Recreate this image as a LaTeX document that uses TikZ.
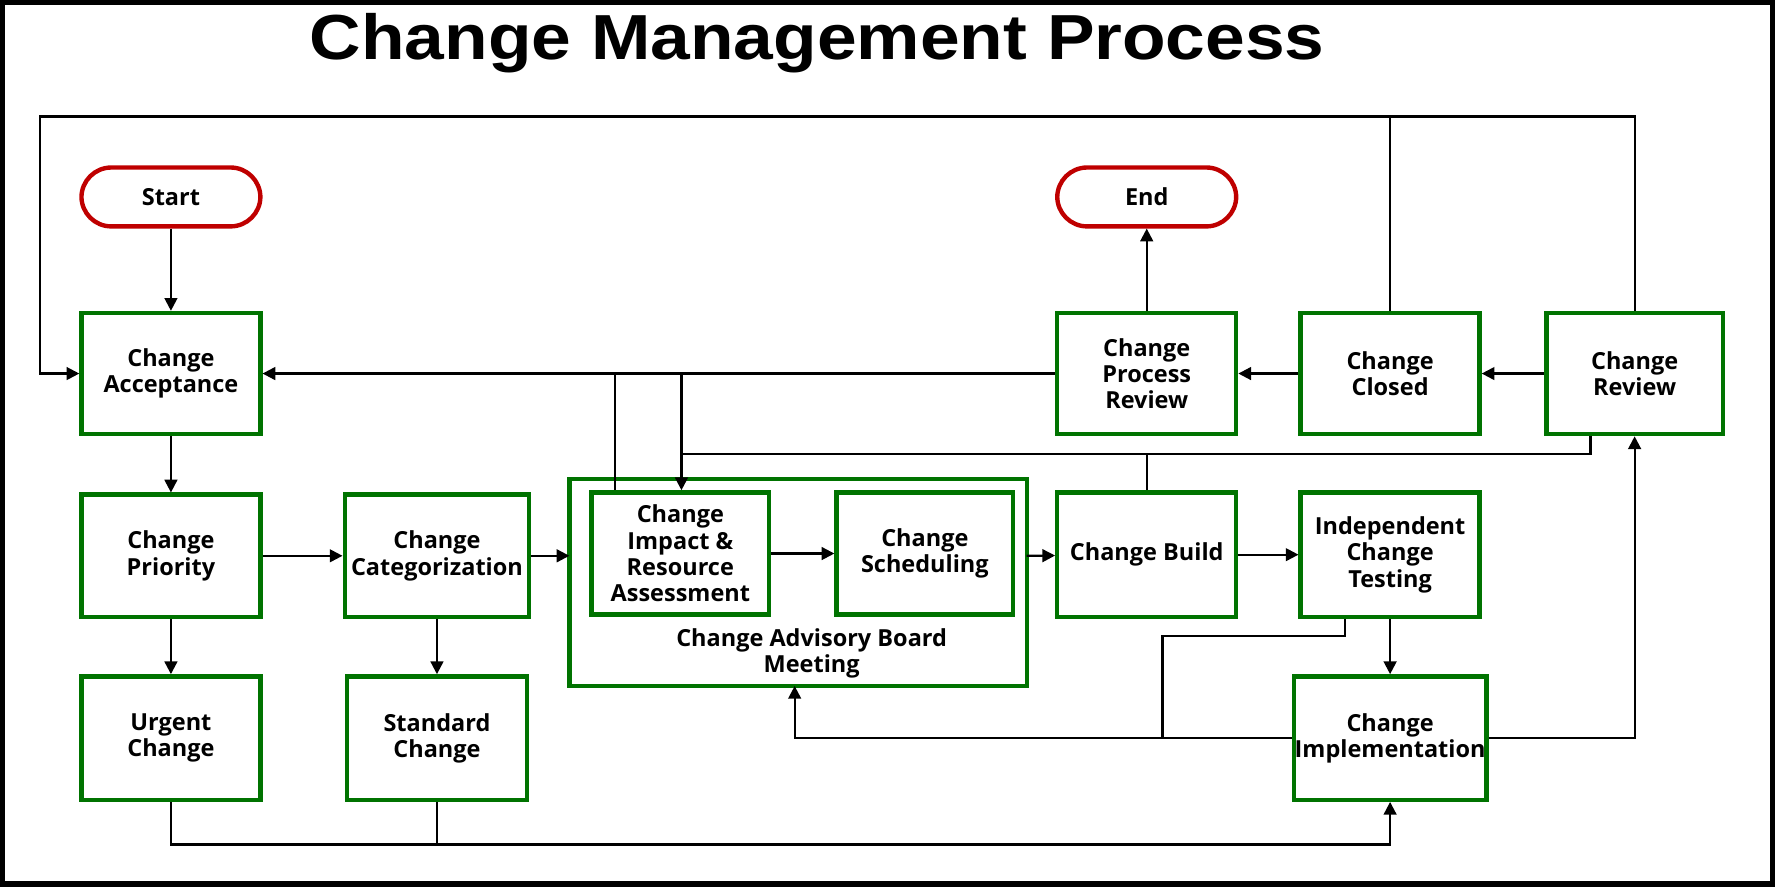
\documentclass[tikz,border=0pt]{standalone}
\usepackage{fontspec}
\setmainfont{Open Sans}
\newfontfamily\titlefont{Liberation Sans}
\usetikzlibrary{arrows.meta}
\begin{document}
\begin{tikzpicture}[x=0.01cm,y=-0.01cm,
  box/.style={draw=green!45!black,line width=1.1pt,fill=white,align=center,font=\bfseries\fontsize{5.9}{6.6}\selectfont,inner sep=0pt},
  term/.style={draw=red!75!black,line width=1.1pt,rounded corners=7.5pt,minimum width=1.58cm,minimum height=0.52cm,font=\bfseries\fontsize{5.9}{6.6}\selectfont},
  arr/.style={line width=0.55pt,-{Triangle[length=3.2pt,width=3.2pt]}},
  ln/.style={line width=0.55pt}]
\useasboundingbox (0,0) rectangle (1568,783);
\draw[line width=2pt] (1,1) rectangle (1567,782);
\node[font=\titlefont\bfseries\fontsize{16}{18}\selectfont] (title) at (722,38) {\scalebox{1.12}[1]{Change Management Process}};
\newcommand\bx[6]{\node[box,minimum width={#4*0.01cm},minimum height={#5*0.01cm}] (#1) at (#2,#3) {#6};}
\node[term] (start) at (151,174) {Start};
\node[term] (end) at (1013,174) {End};
\draw[draw=green!45!black,line width=1.1pt] (503,423) rectangle (907,606);
\coordinate (cabL) at (503,491); \coordinate (cabR) at (907,491); \coordinate (cabB) at (702,606);
\node[font=\bfseries\fontsize{5.9}{6.6}\selectfont,align=center] (cab) at (717,577) {Change Advisory Board\\Meeting};
\bx{acc}{151}{330}{158}{107}{Change\\Acceptance}
\bx{pri}{151}{491}{158}{108}{Change\\Priority}
\bx{cat}{386}{491}{163}{108}{Change\\Categorization}
\bx{urg}{151}{652}{158}{109}{Urgent\\Change}
\bx{std}{386}{652}{159}{109}{Standard\\Change}
\bx{imp}{601}{489}{157}{108}{Change\\Impact \&\\Resource\\Assessment}
\bx{sch}{817}{489}{156}{108}{Change\\Scheduling}
\bx{bld}{1013}{490}{158}{110}{Change Build}
\bx{tst}{1228}{490}{158}{110}{Independent\\Change\\Testing}
\bx{impl}{1228}{652}{170}{109}{Change\\Implementation}
\bx{cpr}{1013}{330}{158}{107}{Change\\Process\\Review}
\bx{cls}{1228}{330}{158}{107}{Change\\Closed}
\bx{rev}{1444}{330}{156}{107}{Change\\Review}
% connectors
\draw[arr] (start) -- (acc);
\draw[arr] (acc) -- (pri);
\draw[arr] (pri) -- (cat);
\draw[arr] (pri) -- (urg);
\draw[arr] (cat) -- (std);
\draw[arr] (cat) -- (cabL);
\draw[arr] (imp) -- (sch);
\draw[arr] (cabR) -- (bld);
\draw[arr] (bld) -- (tst);
\draw[arr] (tst) -- (impl);
\draw[arr] (rev) -- (cls);
\draw[arr] (cls) -- (cpr);
\draw[arr] (cpr) -- (end);
\draw[arr] (cpr.west) -- (acc.east);
\coordinate (t1) at (1188,562); \coordinate (t2) at (1027,562); \coordinate (t3) at (1027,652);
\draw[ln] (tst.south -| t1) -- (t1) -- (t2) -- (t3);
\draw[arr] (impl.west) -- (702,652) -- (cabB);
\coordinate (bot) at (151,746);
\draw[arr] (urg.south) -- (bot) -- (bot -| impl.south) -- (impl.south);
\draw[ln] (std.south) -- (std.south |- bot);
\draw[arr] (impl.east) -- (impl.east -| rev.south) -- (rev.south);
\coordinate (top) at (35,103);
\draw[arr] (rev.north) -- (rev.north |- top) -- (top) -- (35,330) -- (acc.west);
\draw[ln] (cls.north) -- (cls.north |- top);
\draw[ln] (543,330) -- (imp.north -| 543,0);
\coordinate (m1) at (1405,401); \coordinate (m2) at (602,401);
\draw[ln] (rev.south -| m1) -- (m1) -- (m2);
\draw[arr] (602,330) -- (imp.north -| 602,0);
\draw[ln] (bld.north) -- (bld.north |- m1);
\end{tikzpicture}
\end{document}
